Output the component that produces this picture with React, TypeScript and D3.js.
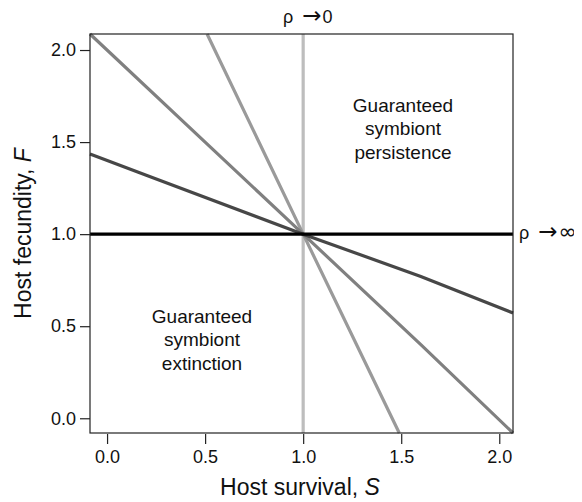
import { useEffect, useRef } from 'react';
import * as d3 from 'd3';

// tick values on both axes
const xTicks = [0, 0.5, 1.0, 1.5, 2.0];
const yTicks = [0, 0.5, 1.0, 1.5, 2.0];

// boundary lines through (1, 1)
const steepLine = [
  [0.51, 2.087],
  [1.0, 1.0],
  [1.49, -0.08],
];
const unitLine = [
  [-0.087, 2.087],
  [0.5, 1.5],
  [1.0, 1.0],
  [1.6, 0.4],
  [2.07, -0.08],
];
const shallowLine = [
  [-0.087, 1.435],
  [0.2, 1.32],
  [1.0, 1.0],
  [1.6, 0.77],
  [2.07, 0.572],
];
const rhoZero = [
  [1.0, -0.08],
  [1.0, 2.087],
];
const rhoInf = [
  [-0.087, 1.0],
  [2.07, 1.0],
];

const persistenceText = ['Guaranteed', 'symbiont', 'persistence'];
const extinctionText = ['Guaranteed', 'symbiont', 'extinction'];

const font = '"Liberation Sans", Arial, Helvetica, sans-serif';
const symbolFont = '"DejaVu Sans", sans-serif';

export default function App() {
  const ref = useRef<SVGSVGElement>(null);

  useEffect(() => {
    const svg = d3.select(ref.current);
    svg.selectAll('*').remove();

    const left = 90;
    const right = 513;
    const top = 34;
    const bottom = 433;

    const x = d3.scaleLinear().domain([-0.087, 2.07]).range([left, right]);
    const y = d3.scaleLinear().domain([-0.08, 2.087]).range([bottom, top]);

    const line = d3
      .line<number[]>()
      .x(d => x(d[0]))
      .y(d => y(d[1]));

    const lines = [
      { pts: rhoZero, color: '#bdbdbd' },
      { pts: steepLine, color: '#9a9a9a' },
      { pts: unitLine, color: '#808080' },
      { pts: shallowLine, color: '#474747' },
      { pts: rhoInf, color: '#000000' },
    ];

    svg
      .append('g')
      .selectAll('path.series')
      .data(lines)
      .enter()
      .append('path')
      .attr('class', 'series')
      .attr('d', d => line(d.pts))
      .attr('fill', 'none')
      .attr('stroke', d => d.color)
      .attr('stroke-width', 3.2);

    // frame
    svg
      .append('rect')
      .attr('x', left)
      .attr('y', top)
      .attr('width', right - left)
      .attr('height', bottom - top)
      .attr('fill', 'none')
      .attr('stroke', '#222')
      .attr('stroke-width', 1.2);

    const xAxis = d3
      .axisBottom(x)
      .tickValues(xTicks)
      .tickSize(10)
      .tickPadding(6)
      .tickFormat(d3.format('.1f'));
    const gx = svg
      .append('g')
      .attr('transform', `translate(0,${bottom + 1})`)
      .call(xAxis);
    gx.select('.domain').remove();

    const yAxis = d3
      .axisLeft(y)
      .tickValues(yTicks)
      .tickSize(10)
      .tickPadding(4)
      .tickFormat(d3.format('.1f'));
    const gy = svg
      .append('g')
      .attr('transform', `translate(${left},0)`)
      .call(yAxis);
    gy.select('.domain').remove();

    svg
      .selectAll('.tick line')
      .attr('stroke', '#222')
      .attr('stroke-width', 1.2);
    svg
      .selectAll('.tick text')
      .attr('font-family', font)
      .attr('font-size', 18)
      .attr('fill', '#111');
    gx.attr('font-size', 18).attr('font-family', font);
    gy.attr('font-size', 18).attr('font-family', font);

    svg
      .append('text')
      .attr('x', 300)
      .attr('y', 495)
      .attr('text-anchor', 'middle')
      .attr('font-family', font)
      .attr('font-size', 23)
      .attr('fill', '#111')
      .html('Host survival, <tspan font-style="italic">S</tspan>');

    svg
      .append('text')
      .attr('transform', `translate(31,${(top + bottom) / 2}) rotate(-90)`)
      .attr('text-anchor', 'middle')
      .attr('font-family', font)
      .attr('font-size', 23)
      .attr('fill', '#111')
      .html('Host fecundity, <tspan font-style="italic">F</tspan>');

    // rho limit labels
    const rhoLabel = (px: number, py: number, limit: string, limitFont: string, limitSize: number) => {
      const t = svg
        .append('text')
        .attr('x', px)
        .attr('y', py)
        .attr('font-family', font)
        .attr('font-size', 18)
        .attr('fill', '#111');
      t.append('tspan').text('ρ');
      t.append('tspan')
        .attr('dx', 9)
        .attr('font-family', symbolFont)
        .attr('font-size', 23)
        .text('\u2192');
      t.append('tspan')
        .attr('dx', 1)
        .attr('font-family', limitFont)
        .attr('font-size', limitSize)
        .text(limit);
    };
    rhoLabel(283, 23, '0', font, 18);
    rhoLabel(519, y(1) + 5, '\u221E', symbolFont, 22);

    const label = (lines: string[], cx: number, cy: number) => {
      svg
        .append('g')
        .selectAll('text')
        .data(lines)
        .enter()
        .append('text')
        .attr('x', cx)
        .attr('y', (d, i) => cy + i * 23.3)
        .attr('text-anchor', 'middle')
        .attr('font-family', font)
        .attr('font-size', 19)
        .attr('fill', '#111')
        .text(d => d);
    };
    label(persistenceText, 403, 112);
    label(extinctionText, 202, 323);
  }, []);

  return (
    <svg
      ref={ref}
      width={582}
      height={502}
      style={{ display: 'block', marginTop: -8, marginLeft: -8 }}
    />
  );
}
